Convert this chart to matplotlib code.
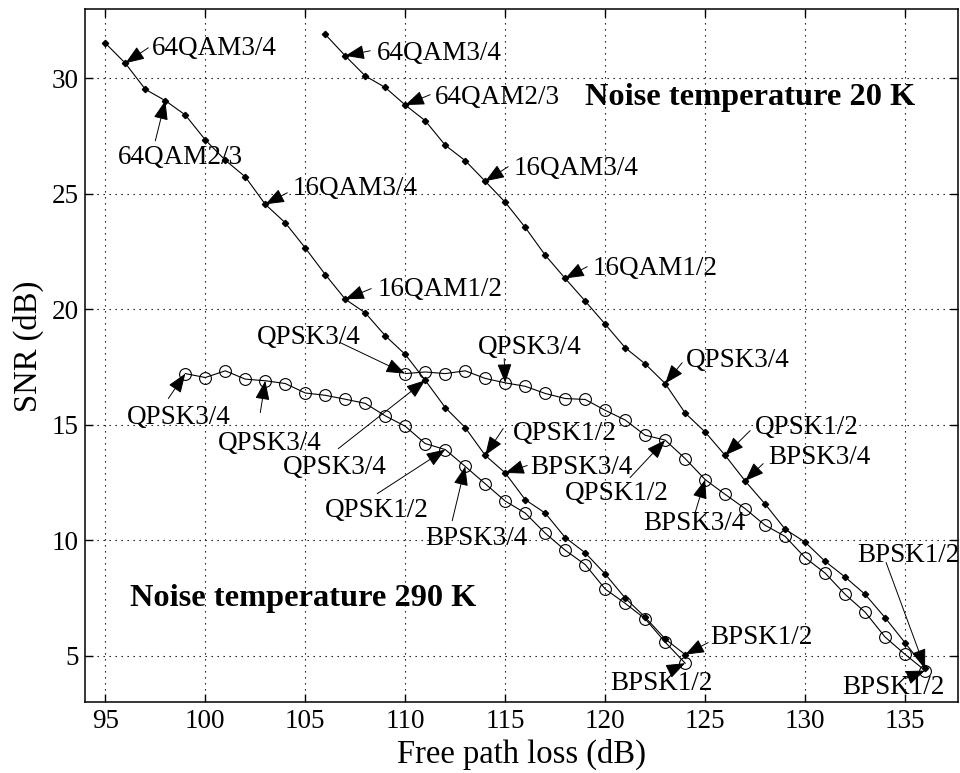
import matplotlib
matplotlib.use("Agg")
import matplotlib.pyplot as plt

# ---------------- data ----------------
x_290_mod = list(range(95, 125))
snr_290_mod = [31.52, 30.65, 29.52, 29.03, 28.41, 27.33, 26.45, 25.73, 24.54, 23.74,
               22.65, 21.50, 20.43, 19.84, 18.85, 18.04, 16.92, 15.74, 14.87, 13.67,
               12.91, 11.75, 11.17, 10.11, 9.45, 8.53, 7.49, 6.66, 5.72, 5.04]

x_20_mod = list(range(106, 137))
snr_20_mod = [31.90, 30.97, 30.10, 29.60, 28.84, 28.16, 27.10, 26.43, 25.54, 24.63,
              23.54, 22.34, 21.33, 20.35, 19.35, 18.33, 17.63, 16.78, 15.50, 14.68,
              13.67, 12.56, 11.56, 10.47, 9.91, 9.08, 8.40, 7.65, 6.64, 5.55, 4.45]

x_290_ofdm = list(range(99, 125))
snr_290_ofdm = [17.21, 17.04, 17.33, 16.97, 16.90, 16.78, 16.37, 16.27, 16.10, 15.92,
                15.38, 14.93, 14.18, 13.92, 13.19, 12.44, 11.69, 11.17, 10.30, 9.56,
                8.94, 7.88, 7.26, 6.59, 5.58, 4.67]

x_20_ofdm = list(range(110, 137))
snr_20_ofdm = [17.21, 17.28, 17.21, 17.33, 17.00, 16.81, 16.66, 16.35, 16.13, 16.09,
               15.62, 15.20, 14.54, 14.33, 13.53, 12.62, 11.98, 11.36, 10.64, 10.16,
               9.24, 8.57, 7.65, 6.88, 5.80, 5.05, 4.35]

x_ticks = [95, 100, 105, 110, 115, 120, 125, 130, 135]
y_ticks = [5, 10, 15, 20, 25, 30]

# annotations: (label, series key, path-loss value of marked point, text pos, arrow tail, ha)
annotations = [
    ("64QAM3/4", "A", 96, (97.35, 31.28), (97.15, 31.32), "left"),
    ("64QAM2/3", "A", 98, (98.75, 26.56), (97.5, 27.29), "center"),
    ("16QAM3/4", "A", 103, (104.35, 25.22), (104.1, 25.04), "left"),
    ("16QAM1/2", "A", 107, (108.6, 20.84), (108.3, 20.89), "left"),
    ("QPSK3/4", "A", 111, (103.9, 13.14), (106.65, 13.96), "left"),
    ("QPSK1/2", "A", 114, (115.4, 14.61), (114.9, 14.83), "left"),
    ("BPSK3/4", "A", 115, (116.25, 13.14), (116.1, 13.23), "left"),
    ("BPSK1/2", "A", 124, (125.25, 5.78), (125.15, 5.56), "left"),
    ("64QAM3/4", "B", 107, (108.6, 31.06), (108.25, 31.19), "left"),
    ("64QAM2/3", "B", 110, (111.5, 29.16), (111.25, 29.29), "left"),
    ("16QAM3/4", "B", 114, (115.4, 26.08), (115.15, 26.17), "left"),
    ("16QAM1/2", "B", 118, (119.35, 21.75), (119.1, 21.84), "left"),
    ("QPSK3/4", "B", 123, (124.05, 17.77), (123.85, 17.68), "left"),
    ("QPSK1/2", "B", 126, (127.5, 14.87), (127.25, 14.74), "left"),
    ("BPSK3/4", "B", 127, (128.15, 13.57), (127.9, 13.31), "left"),
    ("BPSK1/2", "B", 136, (132.6, 9.33), (134.05, 9.03), "left"),
    ("QPSK3/4", "C", 99, (96.1, 15.3), (98.15, 16.13), "left"),
    ("QPSK3/4", "C", 103, (100.65, 14.18), (102.75, 15.52), "left"),
    ("QPSK1/2", "C", 112, (106.0, 11.28), (108.6, 12.01), "left"),
    ("BPSK3/4", "C", 113, (111.0, 10.06), (112.35, 10.84), "left"),
    ("BPSK1/2", "C", 124, (120.25, 3.79), (123.25, 4.35), "left"),
    ("QPSK3/4", "D", 110, (102.6, 18.77), (106.75, 18.55), "left"),
    ("QPSK3/4", "D", 115, (113.65, 18.33), (114.95, 17.86), "left"),
    ("QPSK1/2", "D", 123, (118.0, 12.01), (121.25, 12.71), "left"),
    ("BPSK3/4", "D", 125, (121.9, 10.71), (124.5, 11.19), "left"),
    ("BPSK1/2", "D", 136, (131.85, 3.61), (135.0, 4.0), "left"),
]

series = {
    "A": (x_290_mod, snr_290_mod),
    "B": (x_20_mod, snr_20_mod),
    "C": (x_290_ofdm, snr_290_ofdm),
    "D": (x_20_ofdm, snr_20_ofdm),
}

# ---------------- plot ----------------
plt.rcParams['font.family'] = ['Liberation Serif', 'DejaVu Serif']
fig = plt.figure(figsize=(9.6, 7.73), dpi=100)
ax = fig.add_axes([0.0889, 0.0922, 0.9091, 0.8962])

for key in ("A", "B"):
    xs, ys = series[key]
    ax.plot(xs, ys, '-', color='black', lw=0.8, marker='D', ms=3.2,
            mfc='black', mec='black')
for key in ("C", "D"):
    xs, ys = series[key]
    ax.plot(xs, ys, '-', color='black', lw=0.8, marker='o', ms=8.5,
            mfc='none', mec='black', mew=0.8)

for label, key, xv, tpos, tail, ha in annotations:
    xs, ys = series[key]
    target = (xv, ys[xs.index(xv)])
    ax.annotate('', xy=target, xytext=tail,
                arrowprops=dict(arrowstyle='-|>,head_length=0.85,head_width=0.32',
                                color='black', lw=0.7, shrinkA=0, shrinkB=0,
                                mutation_scale=14))
    ax.text(tpos[0], tpos[1], label, fontsize=19.5, ha=ha, va='center')

ax.text(96.25, 7.46, 'Noise temperature 290 K', fontsize=23.3, fontweight='bold',
        ha='left', va='center')
ax.text(119.0, 29.16, 'Noise temperature 20 K', fontsize=23.3, fontweight='bold',
        ha='left', va='center')

ax.set_xlim(94.0, 137.65)
ax.set_ylim(3, 33)
ax.set_xticks(x_ticks)
ax.set_yticks(y_ticks)
ax.tick_params(direction='in', length=6, width=1, labelsize=19.5,
               top=True, right=True, pad=5)
ax.grid(True, color='black', lw=0.8, linestyle=(0, (1.2, 4.2)))
for s in ax.spines.values():
    s.set_linewidth(1.1)

ax.set_xlabel('Free path loss (dB)', fontsize=23.5, labelpad=4)
ax.set_ylabel('SNR (dB)', fontsize=23.5)
ax.yaxis.set_label_coords(-0.047, 0.513)

fig.savefig('out.png', dpi=100)
